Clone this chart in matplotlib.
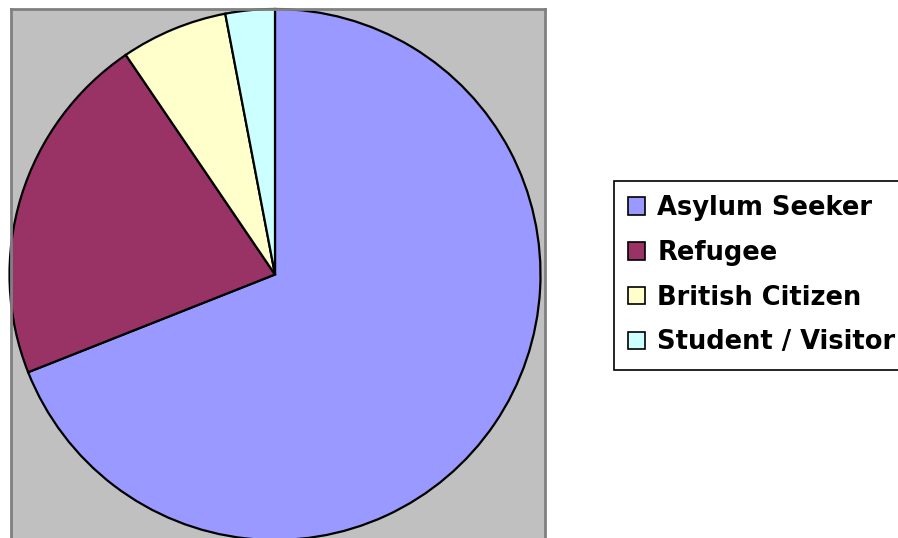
import matplotlib
matplotlib.use("Agg")
import matplotlib.pyplot as plt
from matplotlib.patches import Patch

# pie shares (percent)
categories = ["Asylum Seeker", "Refugee", "British Citizen", "Student / Visitor"]
shares = [69.0, 21.5, 6.5, 3.0]
colors = ["#9999FF", "#993366", "#FFFFCC", "#CCFFFF"]

W, H = 898, 538
fig = plt.figure(figsize=(W / 100, H / 100), dpi=100)

# plot area in pixel coordinates (grey box, bottom edge runs off the image)
left, right, top, bottom = 11, 545, 9, -5
ax = fig.add_axes([left / W, bottom / H, (right - left) / W, (H - top - bottom) / H])
ax.set_facecolor("#C0C0C0")

cx, cy, r = 275, H - 274.5, 265.5
ax.pie(
    shares,
    colors=colors,
    startangle=90,
    counterclock=False,
    center=(cx, cy),
    radius=r,
    frame=True,
    wedgeprops=dict(edgecolor="black", linewidth=1.6),
)
ax.set_xlim(left, right)
ax.set_ylim(bottom, H - top)
ax.set_xticks([])
ax.set_yticks([])
for s in ax.spines.values():
    s.set_color("#808080")
    s.set_linewidth(2)

handles = [Patch(facecolor=c, edgecolor="black", linewidth=1.2) for c in colors]
leg = fig.legend(
    handles,
    categories,
    loc="upper left",
    bbox_to_anchor=(614 / W, 1 - 181 / H),
    borderaxespad=0,
    frameon=True,
    fancybox=False,
    edgecolor="black",
    framealpha=1,
    prop=dict(family="DejaVu Sans", weight="bold", size=18.5),
    handlelength=0.66,
    handleheight=0.66,
    handletextpad=0.47,
    labelspacing=0.73,
    borderpad=0.55,
)
leg.get_frame().set_linewidth(1.2)

fig.savefig("out.png", dpi=100)
